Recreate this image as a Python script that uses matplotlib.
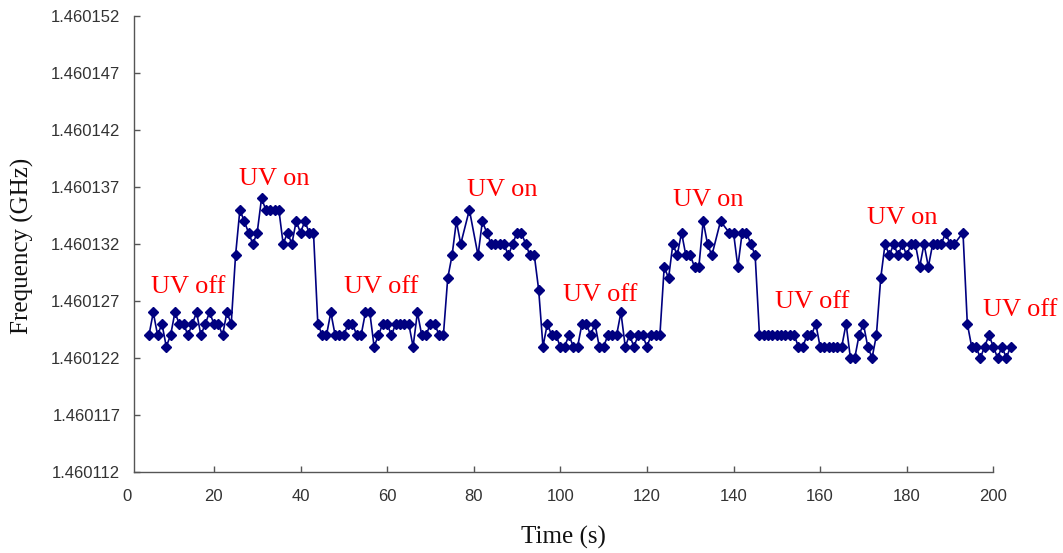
import matplotlib
matplotlib.use('Agg')
import numpy as np
import matplotlib.pyplot as plt
from matplotlib.ticker import FormatStrFormatter

# time stamps (s) and frequency offset above 1.460000 GHz (in kHz)
time_s = [5, 6, 7, 8, 9, 10, 11, 12, 13, 14, 15, 16, 17, 18, 19, 20, 21, 22, 23, 24,
          25, 26, 27, 28, 29, 30, 31, 32, 33, 34, 35, 36, 37, 38, 39, 40, 41, 42, 43,
          44, 45, 46, 47, 48, 49, 50, 51, 52, 53, 54, 55, 56, 57, 58, 59, 60, 61, 62,
          63, 64, 65, 66, 67, 68, 69, 70, 71, 72, 73,
          74, 75, 76, 77, 79, 81, 82, 83, 84, 85, 86, 87, 88, 89, 90, 91, 92, 93, 94, 95,
          96, 97, 98, 99, 100, 101, 102, 103, 104, 105, 106, 107, 108, 109, 110, 111,
          112, 113, 114, 115, 116, 117, 118, 119, 120, 121, 122, 123,
          124, 125, 126, 127, 128, 129, 130, 131, 132, 133, 134, 135, 137, 139, 140,
          141, 142, 143, 144, 145,
          146, 147, 148, 149, 150, 151, 152, 153, 154, 155, 156, 157, 158, 159, 160,
          161, 162, 163, 164, 165, 166, 167, 168, 169, 170, 171, 172, 173,
          174, 175, 176, 177, 178, 179, 180, 181, 182, 183, 184, 185, 186, 187, 188,
          189, 190, 191, 193,
          194, 195, 196, 197, 198, 199, 200, 201, 202, 203, 204]
freq_khz = [124, 126, 124, 125, 123, 124, 126, 125, 125, 124, 125, 126, 124, 125, 126, 125, 125, 124, 126, 125,
            131, 135, 134, 133, 132, 133, 136, 135, 135, 135, 135, 132, 133, 132, 134, 133, 134, 133, 133,
            125, 124, 124, 126, 124, 124, 124, 125, 125, 124, 124, 126, 126, 123, 124, 125, 125, 124, 125,
            125, 125, 125, 123, 126, 124, 124, 125, 125, 124, 124,
            129, 131, 134, 132, 135, 131, 134, 133, 132, 132, 132, 132, 131, 132, 133, 133, 132, 131, 131, 128,
            123, 125, 124, 124, 123, 123, 124, 123, 123, 125, 125, 124, 125, 123, 123, 124,
            124, 124, 126, 123, 124, 123, 124, 124, 123, 124, 124, 124,
            130, 129, 132, 131, 133, 131, 131, 130, 130, 134, 132, 131, 134, 133, 133,
            130, 133, 133, 132, 131,
            124, 124, 124, 124, 124, 124, 124, 124, 124, 123, 123, 124, 124, 125, 123,
            123, 123, 123, 123, 123, 125, 122, 122, 124, 125, 123, 122, 124,
            129, 132, 131, 132, 131, 132, 131, 132, 132, 130, 132, 130, 132, 132, 132,
            133, 132, 132, 133,
            125, 123, 123, 122, 123, 124, 123, 122, 123, 122, 123]

freq_ghz = 1.46 + np.array(freq_khz) * 1e-6

# annotation labels: text, time, frequency offset (kHz) of baseline
uv_text = ['UV off', 'UV on', 'UV off', 'UV on', 'UV off', 'UV on', 'UV off', 'UV on', 'UV off']
uv_t = [14.0, 33.9, 58.6, 86.5, 109.2, 134.1, 158.1, 178.9, 206.2]
uv_khz = [127.66, 137.2, 127.66, 136.23, 126.96, 135.36, 126.35, 133.78, 125.65]

yticks = np.arange(112, 153, 5)

fig = plt.figure(figsize=(10.63, 5.53), dpi=100)
ax = fig.add_axes([127.3/1063, 81/553, 866/1063, 456/553])

ax.plot(time_s, freq_ghz, color='#000080', lw=1.2, marker='D', ms=5,
        mfc='#000080', mec='#000080', clip_on=False, zorder=3)

for s, t, k in zip(uv_text, uv_t, uv_khz):
    ax.text(t, 1.46 + k*1e-6, s, color='red', fontsize=19, family='Liberation Serif',
            ha='center', va='baseline', clip_on=False)

ax.set_xlim(0, 200)
ax.set_ylim(1.460112, 1.460152)
ax.set_xticks(np.arange(0, 201, 20))
ax.set_yticks(1.46 + yticks*1e-6)
ax.yaxis.set_major_formatter(FormatStrFormatter('%.6f'))

for side in ['top', 'right']:
    ax.spines[side].set_visible(False)
for side in ['left', 'bottom']:
    ax.spines[side].set_color('#555555')
    ax.spines[side].set_linewidth(1.0)
ax.spines['left'].set_position(('data', 1.6))
ax.spines['bottom'].set_bounds(1.6, 200)

ax.tick_params(axis='both', direction='in', length=4, width=1, color='#555555',
               labelsize=12, labelcolor='#333333')
ax.tick_params(axis='x', pad=12)
ax.tick_params(axis='y', pad=10)
for lab in ax.get_xticklabels() + ax.get_yticklabels():
    lab.set_family('Liberation Sans')
# the 0 tick sits left of the spine; hide its mark but keep label
ax.xaxis.get_major_ticks()[0].tick1line.set_visible(False)

fig.text(563/1063, 1 - 537/553, 'Time (s)', fontsize=18, family='Liberation Serif',
         ha='center', va='center', color='#111111')
fig.text(22/1063, 1 - 246/553, 'Frequency (GHz)', fontsize=18, family='Liberation Serif',
         ha='center', va='center', rotation=90, color='#111111')

fig.savefig('out.png', dpi=100)
